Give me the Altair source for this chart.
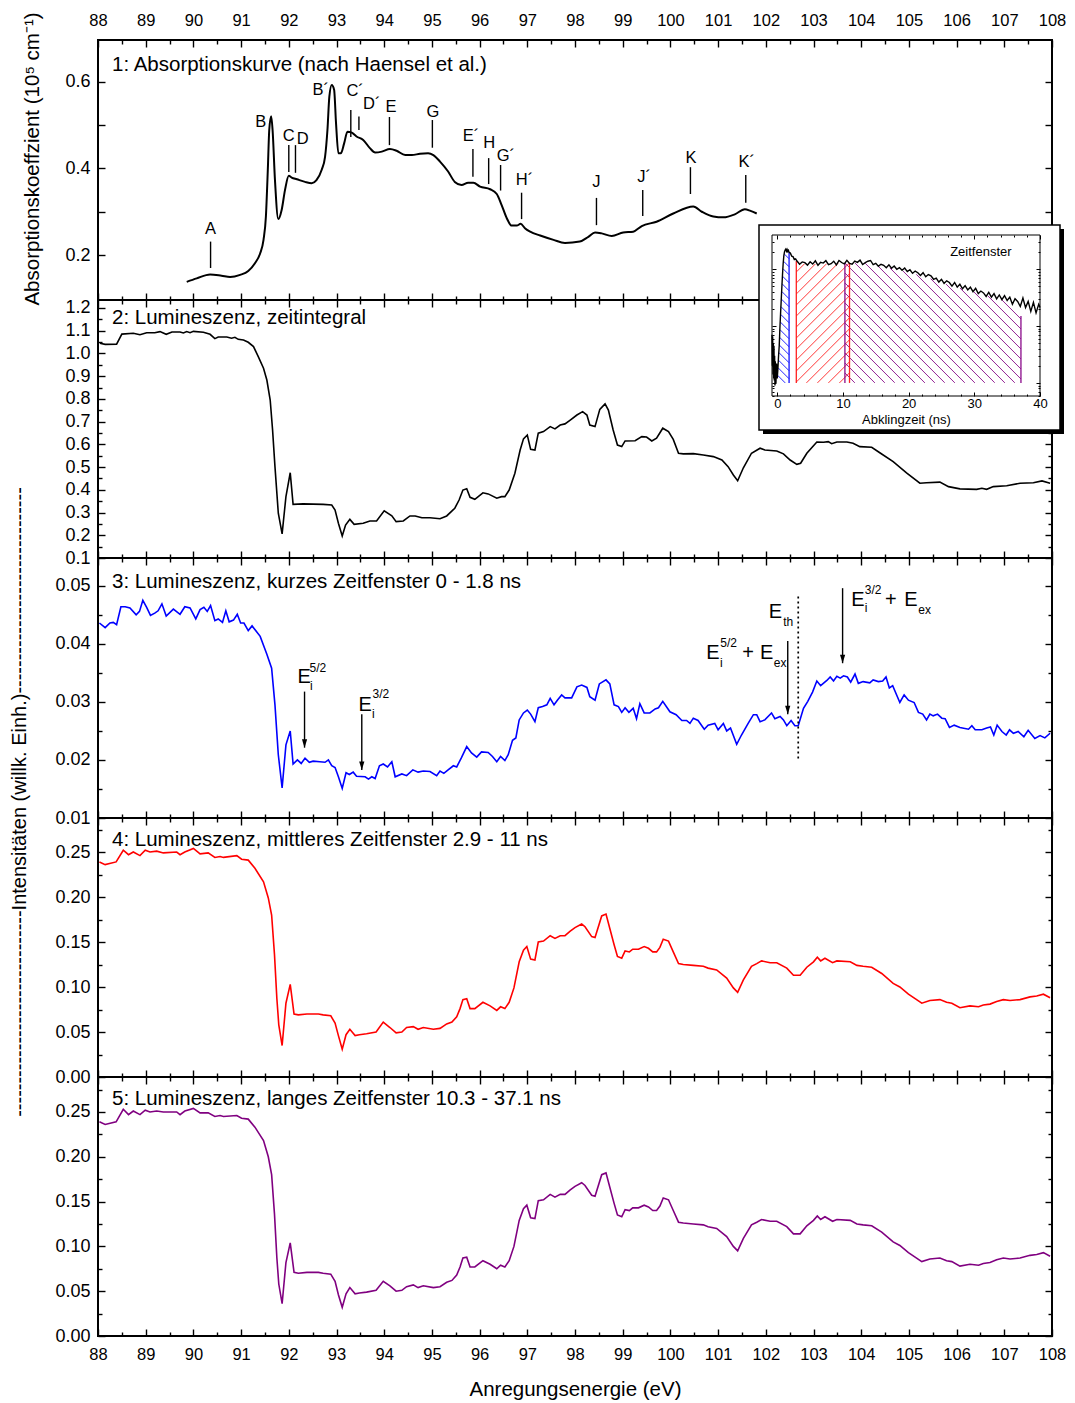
import altair as alt
import numpy as np
import pandas as pd

FONT = "Liberation Sans"
W = 954
H1, H2, H3, H4, H5 = 260, 258, 260, 259, 259
X_DOMAIN = [88, 108]
X_MAJOR = [88, 89, 90, 91, 92, 93, 94, 95, 96, 97, 98, 99, 100, 101, 102, 103, 104, 105, 106, 107, 108]
X_MINOR = [88.5, 89.5, 90.5, 91.5, 92.5, 93.5, 94.5, 95.5, 96.5, 97.5, 98.5, 99.5, 100.5,
           101.5, 102.5, 103.5, 104.5, 105.5, 106.5, 107.5]

# ---------------- data ----------------
ABS = [(89.86, 0.138), (90.07, 0.146), (90.35, 0.155), (90.59, 0.152), (90.77, 0.149), (90.98, 0.154),
       (91.15, 0.163), (91.29, 0.181), (91.40, 0.204), (91.47, 0.235), (91.52, 0.289), (91.56, 0.397),
       (91.59, 0.489), (91.63, 0.521), (91.66, 0.489), (91.71, 0.373), (91.78, 0.283), (91.85, 0.304),
       (91.92, 0.350), (92.00, 0.383), (92.06, 0.379), (92.17, 0.375), (92.34, 0.369), (92.48, 0.366),
       (92.58, 0.373), (92.69, 0.397), (92.76, 0.427), (92.81, 0.489), (92.85, 0.566), (92.90, 0.593),
       (92.95, 0.582), (92.99, 0.505), (93.04, 0.435), (93.09, 0.435), (93.16, 0.458), (93.23, 0.485),
       (93.32, 0.483), (93.42, 0.474), (93.56, 0.466), (93.70, 0.447), (93.81, 0.437), (93.95, 0.439),
       (94.12, 0.445), (94.26, 0.441), (94.44, 0.431), (94.58, 0.431), (94.75, 0.434), (94.92, 0.435),
       (95.03, 0.431), (95.17, 0.416), (95.34, 0.393), (95.48, 0.369), (95.62, 0.362), (95.76, 0.367),
       (95.87, 0.367), (96.01, 0.358), (96.22, 0.352), (96.36, 0.341), (96.46, 0.316), (96.57, 0.285),
       (96.67, 0.268), (96.78, 0.268), (96.86, 0.272), (96.95, 0.262), (97.06, 0.254), (97.27, 0.245),
       (97.55, 0.235), (97.79, 0.228), (98.10, 0.231), (98.28, 0.242), (98.42, 0.252), (98.56, 0.250),
       (98.77, 0.244), (99.01, 0.252), (99.22, 0.254), (99.40, 0.267), (99.71, 0.277), (100.06, 0.296),
       (100.48, 0.312), (100.66, 0.300), (100.90, 0.289), (101.11, 0.287), (101.35, 0.294),
       (101.56, 0.306), (101.68, 0.302), (101.81, 0.296)]

LUM_INT = [(88.04, 1.045), (88.15, 1.040), (88.39, 1.041), (88.50, 1.085), (88.74, 1.089), (88.88, 1.082),
           (89.02, 1.091), (89.19, 1.091), (89.30, 1.096), (89.43, 1.084), (89.55, 1.094), (89.72, 1.094),
           (89.79, 1.090), (89.86, 1.096), (89.93, 1.091), (90.00, 1.097), (90.21, 1.093), (90.35, 1.084),
           (90.45, 1.065), (90.52, 1.072), (90.70, 1.072), (90.80, 1.067), (90.87, 1.071), (90.94, 1.062),
           (91.05, 1.059), (91.15, 1.049), (91.26, 1.030), (91.36, 0.986), (91.47, 0.935), (91.54, 0.883),
           (91.61, 0.795), (91.66, 0.663), (91.71, 0.502), (91.78, 0.297), (91.86, 0.206), (91.94, 0.370),
           (92.03, 0.475), (92.09, 0.336), (92.30, 0.338), (92.72, 0.336), (92.90, 0.333), (92.97, 0.311),
           (93.04, 0.253), (93.12, 0.197), (93.19, 0.245), (93.28, 0.270), (93.37, 0.248), (93.56, 0.253),
           (93.70, 0.263), (93.84, 0.263), (94.00, 0.308), (94.16, 0.286), (94.25, 0.260), (94.40, 0.263),
           (94.54, 0.285), (94.65, 0.285), (94.79, 0.277), (94.96, 0.277), (95.17, 0.273), (95.31, 0.285),
           (95.48, 0.319), (95.57, 0.355), (95.65, 0.399), (95.73, 0.405), (95.80, 0.367), (95.90, 0.358),
           (96.07, 0.387), (96.18, 0.382), (96.36, 0.363), (96.46, 0.370), (96.53, 0.370), (96.62, 0.399),
           (96.74, 0.473), (96.85, 0.575), (96.92, 0.624), (97.00, 0.641), (97.07, 0.578), (97.16, 0.575),
           (97.23, 0.649), (97.34, 0.656), (97.48, 0.678), (97.58, 0.668), (97.69, 0.685), (97.79, 0.690),
           (97.90, 0.707), (98.04, 0.729), (98.16, 0.744), (98.25, 0.729), (98.31, 0.685), (98.42, 0.678),
           (98.52, 0.754), (98.63, 0.778), (98.70, 0.751), (98.80, 0.663), (98.89, 0.597), (98.98, 0.590),
           (99.05, 0.615), (99.26, 0.616), (99.40, 0.634), (99.50, 0.632), (99.61, 0.615), (99.71, 0.627),
           (99.84, 0.671), (99.96, 0.656), (100.06, 0.622), (100.17, 0.561), (100.27, 0.558),
           (100.48, 0.559), (100.69, 0.553), (100.90, 0.546), (101.08, 0.531), (101.21, 0.502),
           (101.32, 0.465), (101.41, 0.440), (101.53, 0.497), (101.70, 0.561), (101.88, 0.583),
           (101.98, 0.575), (102.23, 0.571), (102.37, 0.558), (102.51, 0.531), (102.65, 0.512),
           (102.73, 0.517), (102.86, 0.561), (103.07, 0.610), (103.21, 0.609), (103.31, 0.612),
           (103.38, 0.603), (103.49, 0.610), (103.70, 0.610), (103.83, 0.605), (103.97, 0.590),
           (104.22, 0.587), (104.39, 0.563), (104.67, 0.524), (104.95, 0.475), (105.23, 0.429),
           (105.37, 0.431), (105.65, 0.434), (105.83, 0.414), (106.07, 0.404), (106.42, 0.402),
           (106.53, 0.407), (106.63, 0.402), (106.77, 0.414), (107.05, 0.418), (107.33, 0.429),
           (107.61, 0.431), (107.79, 0.439), (107.96, 0.429)]

LUM_SHORT = [(88.03, 0.0436), (88.15, 0.0428), (88.25, 0.0436), (88.32, 0.0437), (88.39, 0.0433),
             (88.48, 0.0464), (88.57, 0.0464), (88.67, 0.0462), (88.80, 0.0450), (88.87, 0.0456),
             (88.94, 0.0475), (89.02, 0.0463), (89.10, 0.0449), (89.19, 0.0453), (89.26, 0.0457),
             (89.34, 0.0469), (89.43, 0.0448), (89.58, 0.0460), (89.72, 0.0451), (89.82, 0.0464),
             (89.93, 0.0462), (90.05, 0.0443), (90.14, 0.0459), (90.22, 0.0463), (90.29, 0.0456),
             (90.36, 0.0466), (90.45, 0.0440), (90.52, 0.0443), (90.61, 0.0437), (90.68, 0.0457),
             (90.75, 0.0438), (90.84, 0.0441), (90.92, 0.0451), (90.99, 0.0436), (91.06, 0.0436),
             (91.15, 0.0423), (91.23, 0.0431), (91.40, 0.0413), (91.54, 0.0382), (91.64, 0.0358),
             (91.71, 0.0295), (91.78, 0.0209), (91.86, 0.0152), (91.94, 0.0226), (92.03, 0.0250),
             (92.09, 0.0193), (92.18, 0.0200), (92.26, 0.0194), (92.34, 0.0203), (92.43, 0.0196),
             (92.51, 0.0198), (92.65, 0.0197), (92.76, 0.0196), (92.83, 0.0200), (92.90, 0.0190),
             (92.97, 0.0187), (93.04, 0.0171), (93.12, 0.0151), (93.20, 0.0178), (93.27, 0.0175),
             (93.35, 0.0179), (93.42, 0.0172), (93.60, 0.0171), (93.67, 0.0167), (93.74, 0.0171),
             (93.81, 0.0168), (93.90, 0.0190), (93.98, 0.0193), (94.07, 0.0188), (94.16, 0.0197),
             (94.23, 0.0171), (94.37, 0.0176), (94.47, 0.0173), (94.60, 0.0183), (94.71, 0.0179),
             (94.82, 0.0181), (94.96, 0.0180), (95.10, 0.0173), (95.17, 0.0181), (95.25, 0.0177),
             (95.34, 0.0183), (95.45, 0.0190), (95.52, 0.0188), (95.62, 0.0204), (95.73, 0.0223),
             (95.83, 0.0212), (95.94, 0.0205), (96.04, 0.0214), (96.18, 0.0213), (96.27, 0.0206),
             (96.36, 0.0197), (96.44, 0.0206), (96.53, 0.0199), (96.60, 0.0209), (96.69, 0.0234),
             (96.76, 0.0238), (96.83, 0.0269), (96.92, 0.0281), (97.00, 0.0286), (97.07, 0.0279),
             (97.16, 0.0266), (97.23, 0.0290), (97.32, 0.0292), (97.41, 0.0295), (97.48, 0.0306),
             (97.56, 0.0295), (97.63, 0.0303), (97.72, 0.0312), (97.79, 0.0307), (97.93, 0.0307),
             (98.04, 0.0326), (98.14, 0.0329), (98.25, 0.0325), (98.31, 0.0309), (98.42, 0.0303),
             (98.51, 0.0331), (98.65, 0.0338), (98.73, 0.0331), (98.82, 0.0295), (98.91, 0.0292),
             (98.98, 0.0282), (99.05, 0.0290), (99.13, 0.0282), (99.22, 0.0289), (99.29, 0.0271),
             (99.36, 0.0297), (99.45, 0.0281), (99.57, 0.0281), (99.68, 0.0288), (99.75, 0.0290),
             (99.84, 0.0301), (99.99, 0.0283), (100.12, 0.0278), (100.24, 0.0268), (100.34, 0.0268),
             (100.41, 0.0263), (100.48, 0.0272), (100.58, 0.0268), (100.71, 0.0253), (100.79, 0.0260),
             (100.93, 0.0263), (101.00, 0.0252), (101.11, 0.0263), (101.18, 0.0250), (101.26, 0.0255),
             (101.39, 0.0227), (101.49, 0.0243), (101.63, 0.0263), (101.74, 0.0278), (101.81, 0.0278),
             (101.88, 0.0266), (101.98, 0.0269), (102.12, 0.0281), (102.19, 0.0271), (102.30, 0.0275),
             (102.37, 0.0269), (102.44, 0.0259), (102.53, 0.0268), (102.61, 0.0259), (102.68, 0.0259),
             (102.79, 0.0289), (102.88, 0.0301), (102.98, 0.0317), (103.07, 0.0336), (103.15, 0.0328),
             (103.28, 0.0337), (103.35, 0.0343), (103.42, 0.0336), (103.49, 0.0344), (103.56, 0.0341),
             (103.63, 0.0345), (103.71, 0.0343), (103.78, 0.0334), (103.87, 0.0348), (103.94, 0.0332),
             (104.04, 0.0335), (104.18, 0.0333), (104.25, 0.0338), (104.36, 0.0335), (104.45, 0.0336),
             (104.52, 0.0343), (104.59, 0.0324), (104.66, 0.0328), (104.81, 0.0299), (104.90, 0.0312),
             (104.99, 0.0303), (105.11, 0.0299), (105.20, 0.0282), (105.29, 0.0279), (105.37, 0.0269),
             (105.44, 0.0279), (105.51, 0.0276), (105.60, 0.0279), (105.69, 0.0272), (105.76, 0.0271),
             (105.85, 0.0256), (105.95, 0.0260), (106.07, 0.0256), (106.25, 0.0253), (106.32, 0.0259),
             (106.39, 0.0252), (106.53, 0.0252), (106.63, 0.0255), (106.71, 0.0257), (106.78, 0.0243),
             (106.85, 0.0260), (106.95, 0.0249), (107.04, 0.0243), (107.11, 0.0252), (107.19, 0.0246),
             (107.29, 0.0249), (107.41, 0.0240), (107.50, 0.0251), (107.64, 0.0237), (107.75, 0.0242),
             (107.85, 0.0238), (107.96, 0.0246)]

LUM_MID = [(88.03, 0.239), (88.15, 0.236), (88.38, 0.239), (88.53, 0.252), (88.64, 0.247), (88.74, 0.250),
           (88.88, 0.246), (88.99, 0.252), (89.09, 0.250), (89.23, 0.251), (89.37, 0.249), (89.65, 0.250),
           (89.72, 0.247), (89.82, 0.250), (90.00, 0.254), (90.14, 0.248), (90.31, 0.249), (90.45, 0.244),
           (90.56, 0.245), (90.63, 0.244), (90.91, 0.246), (91.01, 0.242), (91.15, 0.241), (91.29, 0.232),
           (91.47, 0.217), (91.57, 0.199), (91.64, 0.180), (91.70, 0.136), (91.75, 0.087), (91.79, 0.058),
           (91.86, 0.035), (91.94, 0.082), (92.03, 0.103), (92.11, 0.070), (92.20, 0.069), (92.38, 0.070),
           (92.62, 0.070), (92.72, 0.069), (92.88, 0.068), (92.97, 0.060), (93.04, 0.046), (93.12, 0.031),
           (93.20, 0.047), (93.28, 0.053), (93.39, 0.046), (93.48, 0.047), (93.63, 0.048), (93.83, 0.050),
           (93.98, 0.061), (94.12, 0.055), (94.25, 0.049), (94.37, 0.050), (94.47, 0.055), (94.61, 0.056),
           (94.71, 0.053), (94.82, 0.055), (95.03, 0.053), (95.17, 0.054), (95.31, 0.059), (95.42, 0.061),
           (95.52, 0.067), (95.59, 0.076), (95.65, 0.086), (95.73, 0.087), (95.80, 0.076), (95.90, 0.076),
           (96.07, 0.083), (96.22, 0.079), (96.36, 0.074), (96.44, 0.078), (96.53, 0.076), (96.62, 0.083),
           (96.72, 0.099), (96.83, 0.128), (96.92, 0.141), (96.99, 0.145), (97.07, 0.131), (97.16, 0.130),
           (97.23, 0.150), (97.34, 0.151), (97.48, 0.157), (97.58, 0.154), (97.69, 0.157), (97.79, 0.157),
           (97.90, 0.162), (98.00, 0.166), (98.14, 0.170), (98.21, 0.167), (98.35, 0.156), (98.42, 0.155),
           (98.56, 0.179), (98.65, 0.181), (98.73, 0.165), (98.82, 0.147), (98.89, 0.134), (98.98, 0.132),
           (99.05, 0.140), (99.14, 0.139), (99.21, 0.142), (99.33, 0.142), (99.45, 0.145), (99.54, 0.143),
           (99.63, 0.139), (99.71, 0.139), (99.78, 0.144), (99.85, 0.153), (99.96, 0.151), (100.06, 0.139),
           (100.17, 0.126), (100.27, 0.125), (100.48, 0.124), (100.69, 0.123), (100.79, 0.121),
           (100.97, 0.119), (101.18, 0.110), (101.32, 0.099), (101.41, 0.094), (101.53, 0.108),
           (101.70, 0.123), (101.81, 0.126), (101.91, 0.129), (102.09, 0.127), (102.23, 0.127),
           (102.44, 0.121), (102.58, 0.113), (102.72, 0.113), (102.86, 0.122), (103.00, 0.128),
           (103.08, 0.133), (103.15, 0.129), (103.24, 0.132), (103.40, 0.127), (103.49, 0.129),
           (103.77, 0.128), (103.91, 0.124), (104.04, 0.123), (104.22, 0.122), (104.43, 0.115),
           (104.67, 0.104), (104.81, 0.100), (104.99, 0.092), (105.13, 0.087), (105.27, 0.082),
           (105.44, 0.085), (105.65, 0.086), (105.79, 0.083), (105.90, 0.082), (106.07, 0.077),
           (106.28, 0.079), (106.46, 0.078), (106.56, 0.080), (106.70, 0.081), (106.84, 0.084),
           (106.98, 0.086), (107.12, 0.085), (107.33, 0.086), (107.54, 0.089), (107.68, 0.090),
           (107.82, 0.092), (107.96, 0.088)]

LUM_LONG = [(88.03, 0.239), (88.15, 0.236), (88.38, 0.239), (88.53, 0.253), (88.64, 0.247), (88.74, 0.251),
            (88.88, 0.247), (88.99, 0.252), (89.09, 0.250), (89.23, 0.251), (89.37, 0.250), (89.65, 0.250),
            (89.72, 0.247), (89.82, 0.251), (90.00, 0.254), (90.14, 0.249), (90.31, 0.249), (90.45, 0.245),
            (90.56, 0.246), (90.63, 0.245), (90.91, 0.246), (91.01, 0.243), (91.15, 0.242), (91.29, 0.233),
            (91.47, 0.218), (91.57, 0.200), (91.64, 0.180), (91.70, 0.136), (91.75, 0.087), (91.79, 0.058),
            (91.86, 0.036), (91.94, 0.082), (92.03, 0.104), (92.11, 0.071), (92.20, 0.070), (92.38, 0.071),
            (92.62, 0.071), (92.72, 0.070), (92.88, 0.069), (92.97, 0.061), (93.04, 0.046), (93.12, 0.032),
            (93.20, 0.047), (93.28, 0.054), (93.39, 0.047), (93.48, 0.048), (93.63, 0.049), (93.83, 0.051),
            (93.98, 0.061), (94.12, 0.056), (94.25, 0.050), (94.37, 0.051), (94.47, 0.055), (94.61, 0.057),
            (94.71, 0.054), (94.82, 0.056), (95.03, 0.054), (95.17, 0.055), (95.31, 0.060), (95.42, 0.062),
            (95.52, 0.068), (95.59, 0.077), (95.65, 0.087), (95.73, 0.088), (95.80, 0.077), (95.90, 0.077),
            (96.07, 0.084), (96.22, 0.080), (96.36, 0.075), (96.44, 0.079), (96.53, 0.077), (96.62, 0.084),
            (96.72, 0.100), (96.83, 0.129), (96.92, 0.142), (96.99, 0.146), (97.07, 0.132), (97.16, 0.131),
            (97.23, 0.151), (97.34, 0.152), (97.48, 0.158), (97.58, 0.155), (97.69, 0.158), (97.79, 0.158),
            (97.90, 0.163), (98.00, 0.167), (98.14, 0.171), (98.21, 0.168), (98.35, 0.157), (98.42, 0.156),
            (98.56, 0.180), (98.65, 0.182), (98.73, 0.166), (98.82, 0.148), (98.89, 0.135), (98.98, 0.133),
            (99.05, 0.141), (99.14, 0.140), (99.21, 0.143), (99.33, 0.143), (99.45, 0.146), (99.54, 0.144),
            (99.63, 0.140), (99.71, 0.140), (99.78, 0.145), (99.85, 0.154), (99.96, 0.152), (100.06, 0.140),
            (100.17, 0.127), (100.27, 0.126), (100.48, 0.125), (100.69, 0.124), (100.79, 0.122),
            (100.97, 0.120), (101.18, 0.111), (101.32, 0.100), (101.41, 0.095), (101.53, 0.109),
            (101.70, 0.124), (101.81, 0.127), (101.91, 0.130), (102.09, 0.128), (102.23, 0.128),
            (102.44, 0.122), (102.58, 0.114), (102.72, 0.114), (102.86, 0.123), (103.00, 0.129),
            (103.08, 0.134), (103.15, 0.130), (103.24, 0.133), (103.40, 0.128), (103.49, 0.130),
            (103.77, 0.129), (103.91, 0.125), (104.04, 0.124), (104.22, 0.123), (104.43, 0.116),
            (104.67, 0.105), (104.81, 0.101), (104.99, 0.093), (105.13, 0.088), (105.27, 0.083),
            (105.44, 0.086), (105.65, 0.087), (105.79, 0.084), (105.90, 0.083), (106.07, 0.078),
            (106.28, 0.080), (106.46, 0.079), (106.56, 0.081), (106.70, 0.082), (106.84, 0.085),
            (106.98, 0.087), (107.12, 0.086), (107.33, 0.087), (107.54, 0.090), (107.68, 0.091),
            (107.82, 0.093), (107.96, 0.089)]

# panel 1 feature letters
LETTERS = ["A", "B", "C", "D", "B\u00b4", "C\u00b4", "D\u00b4", "E", "G", "E\u00b4", "H", "G\u00b4",
           "H\u00b4", "J", "J\u00b4", "K", "K\u00b4"]
LETTER_E = [90.36, 91.41, 92.00, 92.29, 92.67, 93.39, 93.74, 94.14, 95.02, 95.82, 96.20, 96.55,
            96.94, 98.45, 99.45, 100.43, 101.60]
LETTER_V = [0.260, 0.508, 0.475, 0.468, 0.5815, 0.578, 0.549, 0.542, 0.531, 0.475, 0.460, 0.429,
            0.373, 0.369, 0.381, 0.424, 0.416]
MARK_E = [90.36, 92.00, 92.14, 93.30, 93.47, 94.11, 95.01, 95.86, 96.19, 96.44, 96.88, 98.45, 99.42,
          100.42, 101.58]
MARK_TOP = [0.231, 0.454, 0.454, 0.535, 0.520, 0.519, 0.512, 0.445, 0.424, 0.408, 0.344, 0.332, 0.350,
            0.403, 0.385]
MARK_BOT = [0.170, 0.392, 0.390, 0.473, 0.489, 0.454, 0.448, 0.381, 0.364, 0.349, 0.283, 0.269, 0.290,
            0.341, 0.321]

# panel 3 arrows and labels
ARROW_E = [92.33, 93.53, 102.46, 103.61]
ARROW_TOP = [0.03178, 0.02788, 0.04052, 0.0496]
ARROW_BOT = [0.02212, 0.01828, 0.02788, 0.03667]
ETH_E = [102.68]
ETH_TOP = [0.04816]
ETH_BOT = [0.0200]
BIG_TXT = ["E", "E", "E", "E", "+", "E", "E", "+", "E"]
BIG_E = [92.32, 93.60, 102.20, 100.89, 101.63, 102.02, 103.93, 104.62, 105.04]
BIG_V = [0.03436, 0.02948, 0.04547, 0.0384, 0.0384, 0.0384, 0.04759, 0.04759, 0.04759]
SMALL_TXT = ["5/2", "i", "3/2", "i", "th", "5/2", "i", "ex", "3/2", "i", "ex"]
SMALL_E = [92.61, 92.47, 93.93, 93.77, 102.47, 101.22, 101.07, 102.30, 104.25, 104.10, 105.33]
SMALL_V = [0.03591, 0.03281, 0.03133, 0.02788, 0.04384, 0.04012, 0.03667, 0.03667, 0.04931, 0.04616,
           0.04586]

# inset: decay curve (ns, counts)
INSET_T = [-0.8, -0.75, -0.7, -0.65, -0.6, -0.55, -0.5, -0.45, -0.4, -0.35, -0.3, -0.2, -0.1, 0.0, 0.1,
           0.2, 0.3, 0.4, 0.5, 0.6, 0.7, 0.8, 0.9, 1.0, 1.1, 1.2, 1.3, 1.4, 1.5, 1.6, 1.7, 1.8, 2.0, 2.2,
           2.4, 2.6, 2.8,
           3.0, 3.4, 3.8, 4.2, 4.6, 5.0, 5.4, 5.8, 6.2, 6.6, 7.0, 7.4, 7.8, 8.2, 8.6, 9.0, 9.4, 9.8, 10.2,
           10.6, 11.0, 11.4, 11.8, 12.2, 12.6, 13.0, 13.4, 13.8, 14.2, 14.6,
           15.0, 15.4, 15.8, 16.2, 16.6, 17.0, 17.4, 17.8, 18.2, 18.6, 19.0, 19.4, 19.8,
           20.2, 20.6, 21.0, 21.4, 21.8, 22.2, 22.6, 23.0, 23.4, 23.8, 24.2, 24.6,
           25.0, 25.4, 25.8, 26.2, 26.6, 27.0, 27.4, 27.8, 28.2, 28.6, 29.0, 29.4, 29.8,
           30.2, 30.6, 31.0, 31.4, 31.8, 32.2, 32.6, 33.0, 33.4, 33.8, 34.2, 34.6,
           35.0, 35.4, 35.8, 36.2, 36.6, 37.0, 37.4, 37.8, 38.2, 38.6, 39.0, 39.4, 39.8, 40.0]
INSET_I = [7, 2, 6.5, 1.4, 5, 1.2, 4.5, 1.1, 3, 0.9, 2.4, 1.0, 2.2, 1.2, 1.8, 3.0, 4.5, 9, 16, 28, 48, 80,
           125, 170, 200, 215, 224, 206, 220, 203, 212, 196, 190, 168, 165, 146, 150,
           138, 121, 133, 129, 117, 134, 122, 139, 116, 131, 127, 140, 119, 124, 137, 118, 141, 130, 123,
           142, 125, 121, 138, 131, 143, 120, 129, 137, 141, 119,
           126, 112, 121, 116, 105, 118, 103, 113, 99, 106, 95, 104, 90,
           97, 84, 92, 86, 77, 86, 73, 80, 76, 66, 69, 59,
           66, 56, 62, 58, 50, 58, 48, 54, 45, 51, 43, 48, 40,
           46, 37, 41, 38, 33, 39, 32, 37, 30, 35, 29, 34,
           28, 32, 24, 30, 27, 22, 31, 21, 27, 18, 26, 17, 24, 21]

# inset: time windows and the upper edge of each shaded area
WINDOWS = ["kurz", "mittel", "lang"]
WINDOW_COLORS = ["#1010ff", "#ff2020", "#8a0a8a"]
BLUE_TOP_T = [0.0, 0.2, 0.4, 0.6, 0.8, 1.0, 1.2, 1.4, 1.6, 1.8]
BLUE_TOP_I = [1.0, 2.8, 8, 26, 75, 160, 205, 205, 200, 195]
RED_TOP_T = [2.9, 4.0, 6.0, 8.0, 10.0, 11.0]
RED_TOP_I = [138, 124, 122, 124, 128, 128]
PURPLE_TOP_T = [10.3, 12, 14, 16, 18, 20, 22, 24, 26, 28, 30, 32, 34, 36, 37.1]
PURPLE_TOP_I = [128, 128, 126, 112, 100, 88, 76, 64, 53, 46, 40, 34, 30, 25, 15]
EDGE_T = [1.8, 2.9, 11.0, 10.3, 37.1]
EDGE_TOP = [195, 138, 128, 128, 15]
EDGE_W = ["kurz", "mittel", "mittel", "lang", "lang"]

# ---------------- helpers ----------------
ONE = pd.DataFrame({"k": [0]})
TITLE_SIZE = 20.5
YLAB_SIZE = 18
XLAB_SIZE = 16.5


def pts(lst):
    return pd.DataFrame(lst, columns=["e", "v"])


def axis(orient, values, size, offset, labels=False, fmt=None, fsize=16, pad=6, title=None,
         tsize=17, tpad=10, z=0, tw=1.4):
    kw = dict(orient=orient, values=values, tickSize=size, offset=offset, labels=labels,
              grid=False, domain=False, ticks=True, tickColor="black", tickWidth=tw,
              labelFont=FONT, labelFontSize=fsize, labelColor="black", labelPadding=pad,
              labelFlush=False, labelOverlap=False, zindex=z)
    if fmt is not None:
        kw["format"] = fmt
    if title is not None:
        kw.update(title=title, titleFont=FONT, titleFontSize=tsize, titleFontWeight="normal",
                  titleColor="black", titlePadding=tpad)
    else:
        kw["title"] = None
    return alt.Axis(**kw)


def text_at(text, x, y, size=TITLE_SIZE, angle=None, align="left"):
    kw = dict(font=FONT, fontSize=size, color="black", align=align, baseline="middle")
    if angle is not None:
        kw["angle"] = angle
    return alt.Chart(ONE).mark_text(**kw).encode(x=alt.value(x), y=alt.value(y), text=alt.value(text))


def frame(h):
    return alt.Chart(ONE).mark_rect(fillOpacity=0, stroke="black", strokeWidth=2).encode(
        x=alt.value(0), x2=alt.value(W), y=alt.value(0), y2=alt.value(h))


def axis_layers(xs, ys, ydom, y_major, y_minor, y_fmt, y_minor_size=4, top_labels=False,
                bottom_labels=False, bottom_title=None):
    dummy = alt.Chart(pd.DataFrame({"e": X_DOMAIN, "v": ydom})).mark_point(opacity=0)

    def enc(xax, yax):
        return dummy.encode(x=alt.X("e:Q", scale=xs, axis=xax), y=alt.Y("v:Q", scale=ys, axis=yax))

    return [
        enc(axis("bottom", X_MAJOR, 7, -7, labels=bottom_labels, fmt="d", fsize=XLAB_SIZE, pad=10,
                 title=bottom_title, tsize=20.5, tpad=17),
            axis("left", y_major, 7, -7, labels=True, fmt=y_fmt, fsize=YLAB_SIZE, pad=8)),
        enc(axis("bottom", X_MINOR, 4, -4), axis("left", y_minor, y_minor_size, -y_minor_size)),
        enc(axis("top", X_MAJOR, 7, -7, labels=top_labels, fmt="d", fsize=XLAB_SIZE, pad=12),
            axis("right", y_major, 7, -7)),
        enc(axis("top", X_MINOR, 4, -4), axis("right", y_minor, y_minor_size, -y_minor_size)),
    ]


def scales(ydom):
    return (alt.Scale(domain=X_DOMAIN, nice=False, zero=False),
            alt.Scale(domain=ydom, nice=False, zero=False))


def series(data, xs, ys, color, width=1.6, interpolate="linear"):
    return alt.Chart(pts(data)).mark_line(color=color, strokeWidth=width, interpolate=interpolate).encode(
        x=alt.X("e:Q", scale=xs, axis=None), y=alt.Y("v:Q", scale=ys, axis=None))


# ---------------- panel 1 ----------------
D1 = [0.096, 0.697]
xs1, ys1 = scales(D1)
marks1 = pd.DataFrame({"e": MARK_E, "top": MARK_TOP, "bot": MARK_BOT})
letters1 = pd.DataFrame({"e": LETTER_E, "v": LETTER_V, "t": LETTERS})
p1_layers = [
    frame(H1),
    series(ABS, xs1, ys1, "black", 2.0, "monotone"),
    alt.Chart(marks1).mark_rule(color="black", strokeWidth=1.4).encode(
        x=alt.X("e:Q", scale=xs1, axis=None), y=alt.Y("top:Q", scale=ys1, axis=None), y2="bot:Q"),
    alt.Chart(letters1).mark_text(font=FONT, fontSize=16.5, color="black", baseline="middle").encode(
        x=alt.X("e:Q", scale=xs1, axis=None), y=alt.Y("v:Q", scale=ys1, axis=None), text="t:N"),
    *axis_layers(xs1, ys1, D1, [0.2, 0.4, 0.6], [0.3, 0.5], ".1f", y_minor_size=7, top_labels=True),
    text_at("1: Absorptionskurve (nach Haensel et al.)", 14, 25),
    text_at("Absorptionskoeffzient (10\u2075 cm\u207b\u00b9)", -65, 119, size=20.5, angle=270,
            align="center"),
    alt.Chart(ONE).mark_rule(strokeOpacity=0, strokeWidth=1).encode(
        x=alt.value(-97.5), y=alt.value(-39.5), y2=alt.value(-38)),
]
p1 = alt.layer(*p1_layers).resolve_axis(x="independent", y="independent").properties(width=W, height=H1)

# ---------------- panel 2 (+ inset) ----------------
D2 = [0.1, 1.235]
xs2, ys2 = scales(D2)
P2_MAJOR = [0.1, 0.2, 0.3, 0.4, 0.5, 0.6, 0.7, 0.8, 0.9, 1.0, 1.1, 1.2]
P2_MINOR = [0.15, 0.25, 0.35, 0.45, 0.55, 0.65, 0.75, 0.85, 0.95, 1.05, 1.15]
inner2 = alt.layer(
    frame(H2),
    series(LUM_INT, xs2, ys2, "black", 1.6),
    *axis_layers(xs2, ys2, D2, P2_MAJOR, P2_MINOR, ".1f"),
    text_at("2: Lumineszenz, zeitintegral", 14, 18),
).resolve_axis(x="independent", y="independent")

# inset placement inside panel 2 (pixels)
IX0, IX1, IY0, IY1 = 674, 942, -65, 96
I_DOM_T = [-0.8, 40]
I_DOM_I = [0.59, 395]
PXT = (IX1 - IX0) / (I_DOM_T[1] - I_DOM_T[0])
PXD = (IY1 - IY0) / (np.log10(I_DOM_I[1]) - np.log10(I_DOM_I[0]))


def hatch(t0, t1, top_t, top_i, direction, spacing_px, name):
    k = PXT / PXD
    ts = np.linspace(t0, t1, 800)
    top = np.interp(ts, top_t, np.log10(top_i))
    span = top.max() / k
    dc = spacing_px / PXT
    cs = np.arange(t0 - span, t1, dc) if direction == "/" else np.arange(t0, t1 + span, dc)
    rows = []
    for c in cs:
        L = k * (ts - c) if direction == "/" else k * (c - ts)
        ok = np.flatnonzero((L >= 0) & (L <= top))
        if len(ok) < 2:
            continue
        i0, i1 = ok[0], ok[-1]
        rows.append(dict(t=ts[i0], t2=ts[i1], i=10 ** L[i0], i2=10 ** L[i1], w=name))
    return rows


hatch_df = pd.DataFrame(
    hatch(0.0, 1.8, BLUE_TOP_T, BLUE_TOP_I, "\\", 8, "kurz")
    + hatch(2.9, 11.0, RED_TOP_T, RED_TOP_I, "/", 11, "mittel")
    + hatch(10.3, 37.1, PURPLE_TOP_T, PURPLE_TOP_I, "\\", 10, "lang"))
edges_df = pd.DataFrame({"t": EDGE_T, "i": [1.0] * len(EDGE_T), "i2": EDGE_TOP, "w": EDGE_W})
n_in = min(len(INSET_T), len(INSET_I))
curve_df = pd.DataFrame({"t": INSET_T[:n_in], "i": INSET_I[:n_in]})

ixs = alt.Scale(domain=I_DOM_T, range=[IX0, IX1], nice=False, zero=False)
iys = alt.Scale(type="log", domain=I_DOM_I, range=[IY1, IY0], nice=False)
wcol = alt.Scale(domain=WINDOWS, range=WINDOW_COLORS)

idummy = alt.Chart(pd.DataFrame({"t": [0, 40], "i": [1, 100]})).mark_point(opacity=0)
I_MAJ_T = [0, 10, 20, 30, 40]
I_MIN_T = [2, 4, 6, 8, 12, 14, 16, 18, 22, 24, 26, 28, 32, 34, 36, 38]
I_MAJ_I = [1, 10, 100]
I_MIN_I = [0.6, 0.7, 0.8, 0.9, 2, 3, 4, 5, 6, 7, 8, 9, 20, 30, 40, 50, 60, 70, 80, 90, 200, 300]


def ienc(xax, yax):
    return idummy.encode(x=alt.X("t:Q", scale=ixs, axis=xax), y=alt.Y("i:Q", scale=iys, axis=yax))


inset_axes = [
    ienc(axis("bottom", I_MAJ_T, 4, (IY1 - 4) - H2, labels=True, fmt="d", fsize=13, pad=1,
              title="Abklingzeit (ns)", tsize=13, tpad=3, z=1, tw=1),
         axis("left", I_MAJ_I, 4, -(IX0 + 4), z=1, tw=1)),
    ienc(axis("bottom", I_MIN_T, 2, (IY1 - 2) - H2, z=1, tw=1),
         axis("left", I_MIN_I, 2, -(IX0 + 2), z=1, tw=1)),
    ienc(axis("top", I_MAJ_T, 4, -(IY0 + 4), z=1, tw=1),
         axis("right", I_MAJ_I, 4, (IX1 - 4) - W, z=1, tw=1)),
    ienc(axis("top", I_MIN_T, 2, -(IY0 + 2), z=1, tw=1),
         axis("right", I_MIN_I, 2, (IX1 - 2) - W, z=1, tw=1)),
]

inset = alt.layer(
    alt.Chart(ONE).mark_rect(color="black").encode(
        x=alt.value(IX0 - 9), x2=alt.value(IX1 + 24), y=alt.value(IY0 - 6), y2=alt.value(IY1 + 38)),
    alt.Chart(ONE).mark_rect(fill="white", stroke="black", strokeWidth=1.5).encode(
        x=alt.value(IX0 - 13), x2=alt.value(IX1 + 20), y=alt.value(IY0 - 10), y2=alt.value(IY1 + 34)),
    alt.Chart(hatch_df).mark_rule(strokeWidth=0.9).encode(
        x=alt.X("t:Q", scale=ixs, axis=None), x2="t2:Q",
        y=alt.Y("i:Q", scale=iys, axis=None), y2="i2:Q",
        color=alt.Color("w:N", scale=wcol, legend=None)),
    alt.Chart(edges_df).mark_rule(strokeWidth=1.3).encode(
        x=alt.X("t:Q", scale=ixs, axis=None),
        y=alt.Y("i:Q", scale=iys, axis=None), y2="i2:Q",
        color=alt.Color("w:N", scale=wcol, legend=None)),
    alt.Chart(curve_df).mark_line(color="black", strokeWidth=1.4).encode(
        x=alt.X("t:Q", scale=ixs, axis=None), y=alt.Y("i:Q", scale=iys, axis=None)),
    alt.Chart(ONE).mark_rect(fillOpacity=0, stroke="black", strokeWidth=1).encode(
        x=alt.value(IX0), x2=alt.value(IX1), y=alt.value(IY0), y2=alt.value(IY1)),
    *inset_axes,
    alt.Chart(pd.DataFrame({"t": [31.0], "i": [200.0], "s": ["Zeitfenster"]})).mark_text(
        font=FONT, fontSize=13, color="black", baseline="middle").encode(
        x=alt.X("t:Q", scale=ixs, axis=None), y=alt.Y("i:Q", scale=iys, axis=None), text="s:N"),
).resolve_axis(x="independent", y="independent")

p2 = alt.layer(inner2, inset).resolve_scale(x="independent", y="independent", color="independent") \
    .properties(width=W, height=H2)

# ---------------- panel 3 ----------------
D3 = [0.01, 0.0548]
xs3, ys3 = scales(D3)
arrows = pd.DataFrame({"e": ARROW_E, "top": ARROW_TOP, "bot": ARROW_BOT})
eth = pd.DataFrame({"e": ETH_E, "top": ETH_TOP, "bot": ETH_BOT})
big = pd.DataFrame({"e": BIG_E, "v": BIG_V, "t": BIG_TXT})
small = pd.DataFrame({"e": SMALL_E, "v": SMALL_V, "t": SMALL_TXT})
ARROW_HEAD = "M-0.65,-2.1 L0.65,-2.1 L0,0 Z"
INT_LABEL = "-" * 31 + "Intensit\u00e4ten (willk. Einh.)" + "-" * 31
p3_layers = [
    frame(H3),
    series(LUM_SHORT, xs3, ys3, "#0000ff", 1.6),
    alt.Chart(arrows).mark_rule(color="black", strokeWidth=1.4).encode(
        x=alt.X("e:Q", scale=xs3, axis=None), y=alt.Y("top:Q", scale=ys3, axis=None), y2="bot:Q"),
    alt.Chart(arrows).mark_point(shape=ARROW_HEAD, size=64, filled=True, color="black", opacity=1,
                                 strokeWidth=0).encode(
        x=alt.X("e:Q", scale=xs3, axis=None), y=alt.Y("bot:Q", scale=ys3, axis=None)),
    alt.Chart(eth).mark_rule(color="black", strokeWidth=1.7, strokeDash=[2, 3]).encode(
        x=alt.X("e:Q", scale=xs3, axis=None), y=alt.Y("top:Q", scale=ys3, axis=None), y2="bot:Q"),
    alt.Chart(big).mark_text(font=FONT, fontSize=20, color="black", baseline="middle").encode(
        x=alt.X("e:Q", scale=xs3, axis=None), y=alt.Y("v:Q", scale=ys3, axis=None), text="t:N"),
    alt.Chart(small).mark_text(font=FONT, fontSize=12, color="black", baseline="middle").encode(
        x=alt.X("e:Q", scale=xs3, axis=None), y=alt.Y("v:Q", scale=ys3, axis=None), text="t:N"),
    *axis_layers(xs3, ys3, D3, [0.01, 0.02, 0.03, 0.04, 0.05], [0.015, 0.025, 0.035, 0.045], ".2f"),
    text_at("3: Lumineszenz, kurzes Zeitfenster 0 - 1.8 ns", 14, 24),
    text_at(INT_LABEL, -78, 244, size=20, angle=270, align="center"),
]
p3 = alt.layer(*p3_layers).resolve_axis(x="independent", y="independent").properties(width=W, height=H3)

# ---------------- panels 4, 5 ----------------
P45_MAJOR = [0.0, 0.05, 0.10, 0.15, 0.20, 0.25]
P45_MINOR = [0.025, 0.075, 0.125, 0.175, 0.225, 0.275]
D4 = [0.0, 0.2878]
xs4, ys4 = scales(D4)
p4 = alt.layer(
    frame(H4),
    series(LUM_MID, xs4, ys4, "#ff0000", 1.6),
    *axis_layers(xs4, ys4, D4, P45_MAJOR, P45_MINOR, ".2f"),
    text_at("4: Lumineszenz, mittleres Zeitfenster 2.9 - 11 ns", 14, 22),
).resolve_axis(x="independent", y="independent").properties(width=W, height=H4)

D5 = [0.0, 0.289]
xs5, ys5 = scales(D5)
p5 = alt.layer(
    frame(H5),
    series(LUM_LONG, xs5, ys5, "#800080", 1.6),
    *axis_layers(xs5, ys5, D5, P45_MAJOR, P45_MINOR, ".2f", bottom_labels=True,
                 bottom_title="Anregungsenergie (eV)"),
    text_at("5: Lumineszenz, langes Zeitfenster 10.3 - 37.1 ns", 14, 22),
).resolve_axis(x="independent", y="independent").properties(width=W, height=H5)

chart = alt.vconcat(p1, p2, p3, p4, p5, spacing=0, bounds="flush").resolve_scale(
    x="independent", y="independent", color="independent"
).properties(
    padding={"left": 0, "top": 0, "right": 8, "bottom": 8}, background="white"
).configure(font=FONT).configure_view(strokeWidth=0)

chart.save("out.html", embed_options={"renderer": "svg", "actions": False})
